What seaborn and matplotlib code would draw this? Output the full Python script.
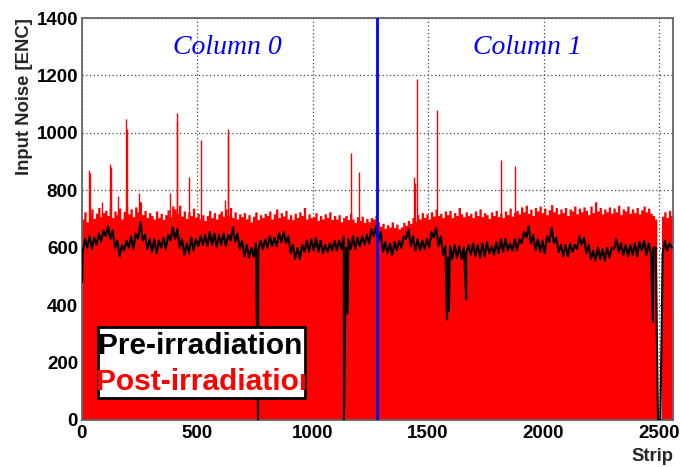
import numpy as np
import pandas as pd
import matplotlib
matplotlib.use("Agg")
import matplotlib.pyplot as plt
import seaborn as sns
from matplotlib.patches import Rectangle
from matplotlib.ticker import MultipleLocator

# ---------------- data ----------------
bin_width = 10  # strips per bin
# post-irradiation noise (upper envelope per 10-strip bin), strips 0..2560
post_irr = [
    700, 725, 690, 718, 735, 702, 720, 740, 708, 722,
    730, 712, 745, 705, 728, 715, 738, 700, 726, 745,
    718, 735, 708, 742, 725, 760, 715, 730, 705, 722,
    712, 700, 728, 705, 720, 698, 715, 732, 708, 745,
    735, 720, 748, 710, 728, 702, 725, 712, 738, 706,
    720, 700, 715, 695, 712, 730, 705, 722, 700, 718,
    728, 710, 735, 712, 740, 705, 725, 700, 718, 708,
    722, 700, 715, 690, 710, 725, 698, 715, 705, 720,
    712, 728, 700, 718, 735, 705, 722, 710, 730, 700,
    715, 698, 720, 705, 725, 712, 740, 700, 718, 705,
    708, 722, 695, 712, 700, 718, 705, 725, 698, 712,
    700, 715, 690, 705, 712, 698, 720, 700, 688, 708,
    695, 710, 688, 702, 690, 705, 700, 712,
    690, 675, 685, 668, 680, 672, 690, 670, 682, 665,
    672, 688, 678, 695, 685, 705, 692, 715, 700, 722,
    705, 718, 700, 725, 710, 735, 712, 720, 705, 728,
    715, 730, 705, 722, 712, 740, 718, 708, 725, 712,
    720, 705, 728, 712, 735, 708, 722, 715, 702, 725,
    712, 730, 708, 720, 705, 728, 715, 738, 710, 722,
    730, 718, 742, 725, 748, 720, 735, 712, 740, 728,
    745, 722, 738, 715, 732, 750, 725, 740, 718, 735,
    722, 740, 712, 735, 728, 745, 718, 738, 725, 742,
    730, 715, 745, 722, 760, 728, 740, 718, 735, 725,
    742, 720, 738, 725, 748, 715, 735, 728, 745, 720,
    735, 722, 740, 718, 732, 745, 725, 738, 720, 712,
    700, 0, 0, 710, 725, 705, 730, 712,
]
# isolated noisy strips (post-irradiation)
spike_strip = [33, 36, 87, 123, 126, 160, 192, 195, 250, 383, 412, 415, 467,
               517, 620, 633, 636, 1167, 1202, 1440, 1443, 1452, 1539, 1816, 1875]
spike_noise = [872, 860, 760, 893, 880, 780, 1050, 1015, 790, 790, 1068, 1040, 845,
               975, 766, 1012, 990, 930, 865, 848, 825, 1187, 1080, 905, 885]

# pre-irradiation noise (per 10-strip bin, alternating low/high strips)
pre_irr = [
    585, 630, 600, 640, 595, 635, 610, 650, 620, 660,
    640, 675, 630, 660, 600, 625, 570, 610, 590, 625,
    600, 640, 595, 650, 630, 690, 625, 645, 595, 630,
    585, 630, 580, 625, 600, 635, 595, 645, 625, 670,
    630, 665, 600, 630, 575, 615, 580, 635, 590, 630,
    605, 640, 610, 645, 605, 655, 610, 650, 600, 645,
    610, 650, 605, 645, 625, 670, 620, 650, 595, 625,
    570, 610, 565, 600, 570, 615, 590, 625, 595, 630,
    600, 640, 605, 635, 605, 650, 620, 655, 615, 640,
    580, 610, 560, 600, 560, 610, 585, 625, 585, 630,
    590, 635, 585, 625, 580, 610, 585, 615, 590, 625,
    590, 625, 595, 640, 600, 630, 595, 640, 595, 635,
    605, 640, 610, 645, 615, 665, 640, 675,
    620, 655, 585, 620, 580, 615, 575, 620, 590, 625,
    600, 640, 630, 665, 605, 640, 590, 630, 590, 625,
    595, 630, 600, 655, 635, 670, 605, 640, 575, 605,
    565, 605, 560, 610, 565, 605, 560, 600, 580, 610,
    575, 615, 570, 610, 565, 615, 570, 620, 580, 605,
    575, 620, 580, 630, 585, 630, 590, 615, 590, 630,
    590, 630, 615, 655, 635, 675, 615, 645, 590, 630,
    585, 625, 580, 640, 620, 670, 615, 635, 585, 610,
    570, 610, 570, 615, 585, 610, 595, 640, 610, 635,
    580, 610, 560, 590, 555, 600, 560, 595, 555, 600,
    565, 600, 595, 630, 585, 615, 575, 610, 570, 610,
    575, 615, 570, 620, 590, 625, 575, 615, 575, 600,
    600, 0, 0, 580, 625, 590, 615, 600,
]
# isolated low strips (pre-irradiation)
dip_strip = [3, 764, 1136, 1152, 1582, 1590, 1665, 2473, 2512]
dip_noise = [480, 0, 0, 370, 350, 380, 420, 340, 360]

column_boundary = 1280
column_names = ["Column 0", "Column 1"]
legend_labels = ["Pre-irradiation", "Post-irradiation"]
x_ticks = [0, 500, 1000, 1500, 2000, 2500]
y_ticks = [0, 200, 400, 600, 800, 1000, 1200, 1400]

# ---------------- figure ----------------
sns.set_style("white")
plt.rcParams["font.family"] = ["Liberation Sans", "DejaVu Sans"]
plt.rcParams["font.weight"] = "bold"

fig = plt.figure(figsize=(6.81, 4.67), dpi=100)
ax = fig.add_axes([81.5 / 681, 1 - 420 / 467, 591.5 / 681, 402 / 467])

n_bins = len(post_irr)
centers = np.arange(n_bins) * bin_width + bin_width / 2
post_df = pd.DataFrame({"strip": centers, "noise": np.asarray(post_irr, dtype=float)})

sns.histplot(data=post_df, x="strip", weights="noise", binwidth=bin_width,
             binrange=(0, n_bins * bin_width), element="step",
             fill=True, color="#ff0000", alpha=1, linewidth=0, ax=ax, zorder=2)
ax.vlines(spike_strip, 0, spike_noise, color="#ff0000", linewidth=1.0, zorder=2)

pre_df = pd.DataFrame({"strip": list(centers) + dip_strip,
                       "noise": list(pre_irr) + dip_noise}).sort_values("strip")
sns.lineplot(data=pre_df, x="strip", y="noise", color="black", linewidth=1.5,
             estimator=None, sort=True, ax=ax, zorder=3)

ax.axvline(column_boundary, color="#0000ff", linewidth=2, zorder=4)

ax.set_xlim(0, 2560)
ax.set_ylim(0, 1400)
ax.set_xticks(x_ticks)
ax.set_yticks(y_ticks)
ax.xaxis.set_minor_locator(MultipleLocator(100))
ax.yaxis.set_minor_locator(MultipleLocator(50))
ax.tick_params(axis="both", which="both", direction="in", colors="#555555",
               labelcolor="black", labelsize=13.5, top=False, right=False)
ax.tick_params(axis="both", which="major", length=7, width=1)
ax.tick_params(axis="both", which="minor", length=3.5, width=1)
ax.tick_params(axis="y", pad=2.5)
ax.tick_params(axis="x", pad=3.5)
for lab in ax.get_xticklabels() + ax.get_yticklabels():
    lab.set_fontweight("bold")

ax.grid(True, which="major", linestyle=(0, (1, 2)), color="#444444", linewidth=0.9)
ax.set_axisbelow(True)
for sp in ax.spines.values():
    sp.set_color("#666666")
    sp.set_linewidth(1.3)

ax.set_ylabel("Input Noise [ENC]", fontsize=13.3, fontweight="bold", loc="top")
ax.yaxis.set_label_coords(-0.082, 1.0)
ax.set_xlabel("Strip", fontsize=13.3, fontweight="bold", loc="right")
ax.xaxis.set_label_coords(1.0, -0.07)

ax.text(227.5 / 681, 1 - 48 / 467, column_names[0], transform=fig.transFigure,
        ha="center", va="center", fontsize=20, color="#0000ff",
        family=["Liberation Serif", "DejaVu Serif"], style="italic", fontweight="normal")
ax.text(527.5 / 681, 1 - 48 / 467, column_names[1], transform=fig.transFigure,
        ha="center", va="center", fontsize=20, color="#0000ff",
        family=["Liberation Serif", "DejaVu Serif"], style="italic", fontweight="normal")

# legend box (ROOT-style TLegend with clipped text)
x0, x1 = (97.7 - 81.5) / 591.5, (305 - 81.5) / 591.5
y0, y1 = (420 - 398) / 402, (420 - 326.7) / 402
box = Rectangle((x0, y0), x1 - x0, y1 - y0, transform=ax.transAxes,
                facecolor="white", edgecolor="black", linewidth=2, zorder=5)
ax.add_patch(box)
t1 = ax.text((98 - 81.5) / 591.5, (420 - 346) / 402, legend_labels[0],
             transform=ax.transAxes, ha="left", va="center", fontsize=21.5,
             fontweight="bold", color="black", zorder=6, clip_on=True)
t1.set_clip_path(box)
t2 = ax.text((96.5 - 81.5) / 591.5, (420 - 382) / 402, legend_labels[1],
             transform=ax.transAxes, ha="left", va="center", fontsize=21.5,
             fontweight="bold", color="#ff0000", zorder=6, clip_on=True)
t2.set_clip_path(box)

fig.savefig("out.png", dpi=100)
